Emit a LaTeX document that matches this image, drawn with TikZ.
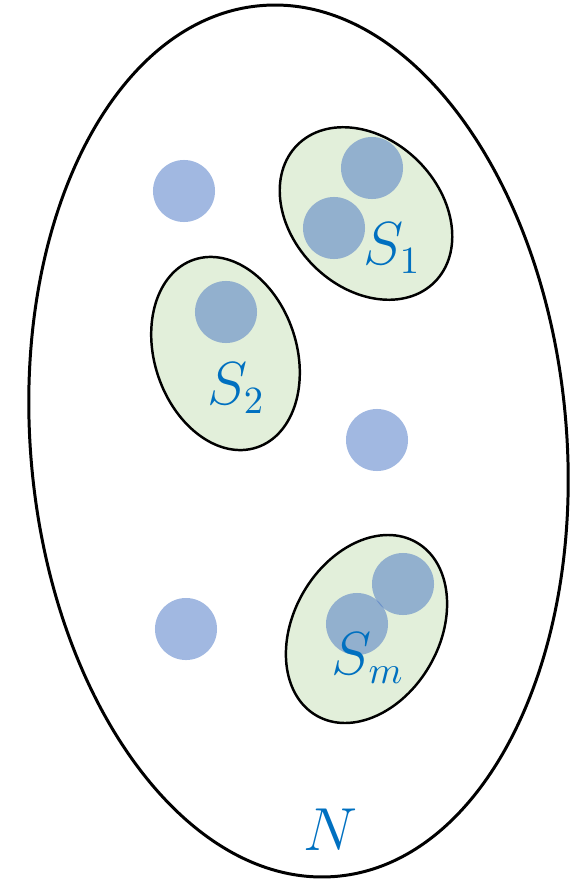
\documentclass[tikz,border=0pt]{standalone}
\usetikzlibrary{positioning}
\definecolor{setgreen}{HTML}{E2EFDA}
\definecolor{dotblue}{HTML}{4472C4}
\definecolor{labelblue}{HTML}{0070C0}

\begin{document}
\begin{tikzpicture}[
      x=0.01cm, y=0.01cm,
      subset/.style={draw, line width=0.7pt, fill=setgreen},
      dot/.style={circle, fill=dotblue, fill opacity=0.5, inner sep=0pt,
        minimum size=0.62cm},
      setlabel/.style={text=labelblue, inner sep=0pt,
        font=\fontsize{16}{19}\selectfont}
    ]
      \useasboundingbox (0,0) rectangle (585,-879);
      % ground set N
      \draw[line width=0.85pt] (298.5,-441) ellipse [x radius=268, y radius=437, rotate=5];
      % subsets
      \draw[subset] (366,-213.5) ellipse [x radius=97, y radius=74, rotate=-45];
      \draw[subset] (225.5,-353.5) ellipse [x radius=71, y radius=99, rotate=18.5];
      \draw[subset] (366.5,-629) ellipse [x radius=73, y radius=100, rotate=-30];
      % elements
      \node[dot] (free1) at (184,-191) {};
      \node[dot] (free2) at (377,-440) {};
      \node[dot] (free3) at (186,-629) {};
      \node[dot] (one1) at (372,-168) {};
      \node[dot] (one2) at (334,-228) {};
      \node[dot] (two1) at (226,-312) {};
      \node[dot] (em1) at (403,-584) {};
      \node[dot] (em2) at (357,-624) {};
      % labels
      \node[setlabel] (lone) at (392,-248) {$S_1$};
      \node[setlabel] (ltwo) at (236,-388) {$S_2$};
      \node[setlabel] (lem) at (368,-658) {$S_m$};
      \node[setlabel] (lN) at (330,-830) {$N$};
    \end{tikzpicture}
\end{document}
